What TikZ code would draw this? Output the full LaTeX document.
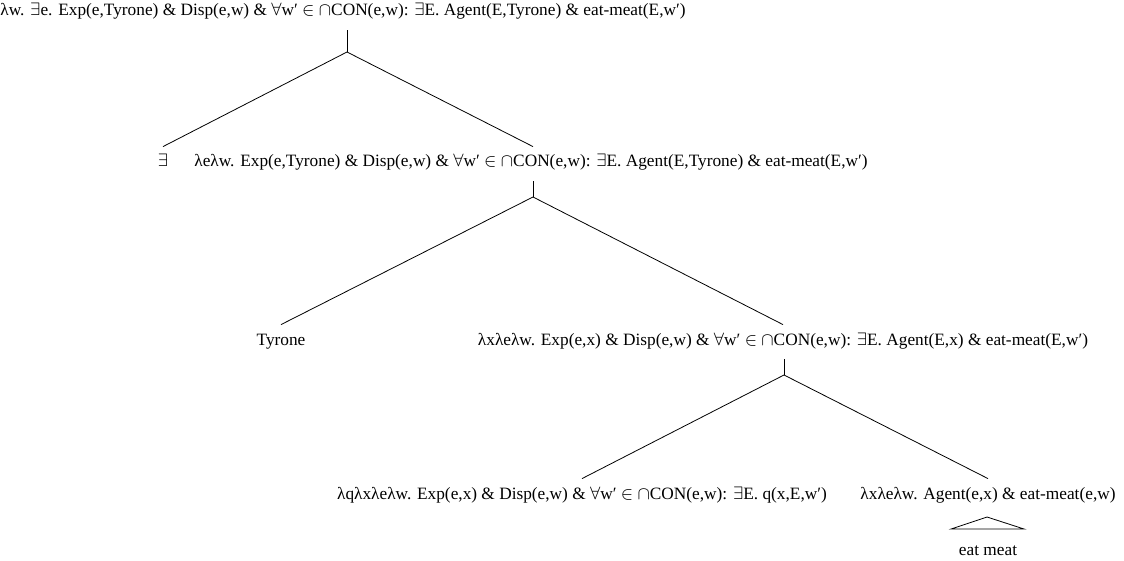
\documentclass[tikz,border=0pt]{standalone}
\usepackage{fontspec}
\setmainfont{Liberation Serif}
\newcommand{\exq}{$\exists$}
\newcommand{\allq}{$\forall$}
\newcommand{\inq}{$\in$}
\newcommand{\capq}{$\cap$}
\begin{document}
\begin{tikzpicture}[x=0.5pt, y=-0.5pt,
    sem/.style={inner xsep=0pt, inner ysep=4pt, text height=6pt, text depth=3pt,
                anchor=base, font=\fontsize{8.65}{10}\selectfont}]
    \useasboundingbox (0,0) rectangle (1124,561);

    % nodes, row by row
    \node[sem, anchor=base west] (root) at (0,16)
        {λw. \exq e. Exp(e,Tyrone) \& Disp(e,w) \& \allq w′ \inq\ \capq CON(e,w): \exq E. Agent(E,Tyrone) \& eat-meat(E,w′)};
    \node[sem] (ex) at (163,167) {\exq};
    \node[sem] (lamE) at (531,167)
        {λeλw. Exp(e,Tyrone) \& Disp(e,w) \& \allq w′ \inq\ \capq CON(e,w): \exq E. Agent(E,Tyrone) \& eat-meat(E,w′)};
    \node[sem] (tyr) at (281,345) {Tyrone};
    \node[sem] (lamX) at (783,345)
        {λxλeλw. Exp(e,x) \& Disp(e,w) \& \allq w′ \inq\ \capq CON(e,w): \exq E. Agent(E,x) \& eat-meat(E,w′)};
    \node[sem] (lamQ) at (582,499)
        {λqλxλeλw. Exp(e,x) \& Disp(e,w) \& \allq w′ \inq\ \capq CON(e,w): \exq E. q(x,E,w′)};
    \node[sem] (agt) at (988,499) {λxλeλw. Agent(e,x) \& eat-meat(e,w)};
    \node[sem] (meat) at (988,555) {eat meat};

    % junctions
    \coordinate (J1) at (347,52);
    \coordinate (J2) at (533,197);
    \coordinate (J3) at (784,375);

    \draw (J1 |- root.south) -- (J1);
    \draw (J1) -- (ex.north);
    \draw (J1) -- (J2 |- lamE.north);
    \draw (J2 |- lamE.south) -- (J2);
    \draw (J2) -- (tyr.north);
    \draw (J2) -- (lamX.north);
    \draw (J3 |- lamX.south) -- (J3);
    \draw (J3) -- (lamQ.north);
    \draw (J3) -- (agt.north);

    % triangle over the leaf
    \path (987,517) coordinate (T);
    \draw (T) -- (951,529) -- (1024,529) -- cycle;
\end{tikzpicture}
\end{document}
